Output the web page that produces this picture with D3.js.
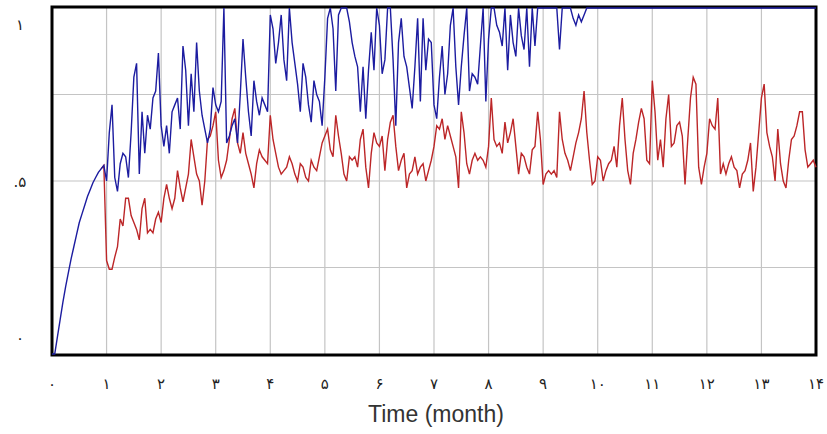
<!DOCTYPE html>
<html><head><meta charset="utf-8">
<script src="https://cdn.jsdelivr.net/npm/d3@7"></script>
<style>body{margin:0;background:#fff}svg{display:block}</style>
</head><body>
<svg id="chart" width="827" height="434"></svg>
<script>
// ---- data (one row = one month, step 0.05 month) ----
const timeStep = 0.05;
const blueSeries = [
0,0,0.05,0.10,0.15,0.195,0.235,0.275,0.31,0.345,0.38,0.405,0.43,0.455,0.475,0.495,0.51,0.525,0.535,0.545,
0.50,0.64,0.72,0.51,0.47,0.55,0.58,0.57,0.51,0.64,0.80,0.84,0.52,0.70,0.58,0.69,0.65,0.74,0.76,0.87,
0.66,0.60,0.66,0.58,0.70,0.72,0.74,0.65,0.89,0.82,0.66,0.81,0.70,0.90,0.76,0.69,0.65,0.61,0.65,0.77,
0.72,0.70,0.73,1.0,0.61,0.63,0.66,0.68,0.61,0.75,0.91,0.80,0.70,0.63,0.79,0.73,0.69,0.74,0.72,0.70,
0.98,0.94,0.84,0.90,0.98,0.85,0.79,1.0,0.90,0.84,0.78,0.70,0.84,0.80,0.72,0.67,0.79,0.75,0.73,0.66,
0.80,0.97,1.0,0.94,0.76,0.98,1.0,1.0,1.0,0.96,0.90,0.86,0.83,0.70,0.83,0.68,0.82,0.93,0.82,1.0,
0.95,0.81,0.85,1.0,1.0,0.85,0.66,0.90,0.97,0.86,0.83,0.77,0.71,0.83,0.97,0.73,0.97,0.82,0.91,0.90,
0.72,0.68,0.80,0.89,0.75,0.81,0.95,1.0,0.83,0.72,0.83,0.92,1.0,0.76,0.81,0.80,0.78,0.89,1.0,0.73,
0.91,1.0,1.0,0.95,0.93,0.89,1.0,0.82,0.98,0.90,0.86,1.0,0.92,0.88,1.0,0.83,1.0,0.89,1.0,1.0,
1,1,1,1,1,1,0.88,1.0,1.0,1.0,1.0,0.97,0.95,0.98,0.96,0.98,1,1,1,1,
1,1,1,1,1,1,1,1,1,1,1,1,1,1,1,1,1,1,1,1,
1,1,1,1,1,1,1,1,1,1,1,1,1,1,1,1,1,1,1,1,
1,1,1,1,1,1,1,1,1,1,1,1,1,1,1,1,1,1,1,1,
1,1,1,1,1,1,1,1,1,1,1,1,1,1,1,1,1,1,1,1,
1
];
const redSeries = [
null,null,null,null,null,null,null,null,null,null,null,null,null,null,null,null,null,null,0.535,0.545,
0.27,0.245,0.245,0.28,0.31,0.39,0.37,0.45,0.45,0.40,0.38,0.36,0.33,0.42,0.45,0.35,0.36,0.35,0.39,0.41,
0.38,0.45,0.49,0.45,0.42,0.45,0.53,0.48,0.44,0.48,0.52,0.62,0.57,0.52,0.50,0.43,0.50,0.62,0.63,0.66,
0.70,0.56,0.51,0.53,0.56,0.62,0.68,0.71,0.61,0.58,0.64,0.58,0.55,0.52,0.48,0.55,0.59,0.57,0.56,0.55,
0.69,0.62,0.58,0.54,0.52,0.53,0.54,0.57,0.55,0.52,0.50,0.55,0.54,0.51,0.50,0.56,0.54,0.53,0.57,0.61,
0.63,0.65,0.59,0.57,0.69,0.63,0.58,0.52,0.50,0.57,0.56,0.57,0.54,0.62,0.65,0.54,0.48,0.58,0.64,0.61,
0.60,0.63,0.53,0.62,0.67,0.69,0.60,0.53,0.56,0.58,0.48,0.52,0.53,0.57,0.52,0.54,0.55,0.50,0.53,0.56,
0.60,0.66,0.65,0.68,0.62,0.66,0.63,0.60,0.57,0.48,0.70,0.64,0.55,0.52,0.56,0.58,0.56,0.57,0.56,0.54,
0.60,0.74,0.62,0.60,0.61,0.58,0.67,0.61,0.64,0.68,0.60,0.52,0.58,0.57,0.54,0.52,0.59,0.60,0.70,0.62,
0.49,0.52,0.53,0.52,0.53,0.51,0.70,0.62,0.58,0.56,0.53,0.57,0.61,0.64,0.68,0.76,0.64,0.56,0.49,0.50,
0.57,0.56,0.50,0.53,0.55,0.56,0.60,0.54,0.66,0.74,0.62,0.53,0.49,0.58,0.62,0.67,0.71,0.68,0.56,0.55,
0.79,0.70,0.56,0.62,0.54,0.68,0.75,0.60,0.61,0.66,0.67,0.63,0.49,0.62,0.74,0.80,0.78,0.54,0.49,0.54,
0.58,0.68,0.66,0.65,0.74,0.52,0.55,0.52,0.55,0.57,0.54,0.53,0.48,0.52,0.53,0.56,0.61,0.47,0.54,0.64,
0.74,0.78,0.64,0.60,0.57,0.50,0.65,0.55,0.50,0.48,0.56,0.62,0.63,0.66,0.70,0.70,0.59,0.54,0.55,0.56,
0.54
];
const xTickValues = [0,1,2,3,4,5,6,7,8,9,10,11,12,13,14];
const xTickLabels = ["۰","۱","۲","۳","۴","۵","۶","۷","۸","۹","۱۰","۱۱","۱۲","۱۳","۱۴"];
const yGridValues = [0.25,0.5,0.75];
const yTickValues = [0,0.5,1];
const yTickLabels = ["۰",".۵","۱"];
const xTitle = "Time (month)";

// ---- drawing ----
const svg = d3.select("#chart");
const L = 52, R = 816, T = 8, B = 354;
const x = d3.scaleLinear().domain([0,14]).range([L,R]);
const y = d3.scaleLinear().domain([0,1]).range([B,T]);
const numFont = "Tahoma, 'DejaVu Sans', sans-serif";

// grid
svg.append("g").selectAll("line").data(xTickValues.slice(1,-1)).join("line")
  .attr("x1", d=>x(d)).attr("x2", d=>x(d)).attr("y1", T).attr("y2", B)
  .attr("stroke", "#c4c4c4").attr("stroke-width", 1.2);
svg.append("g").selectAll("line").data(yGridValues).join("line")
  .attr("x1", L).attr("x2", R).attr("y1", d=>y(d)).attr("y2", d=>y(d))
  .attr("stroke", "#c4c4c4").attr("stroke-width", 1.2);

// frame
svg.append("rect").attr("x", L).attr("y", T-1).attr("width", R-L).attr("height", B-T+2)
  .attr("fill", "none").attr("stroke", "#000").attr("stroke-width", 3);

const times = blueSeries.map((_, i) => +(i*timeStep).toFixed(2));
const line = d3.line().defined(d => d[1] !== null)
  .x(d => x(d[0])).y(d => y(Math.min(1, d[1])));

svg.append("path").datum(times.map((t,i)=>[t, redSeries[i]]))
  .attr("d", line).attr("fill","none").attr("stroke","#bc2628").attr("stroke-width",1.4);
svg.append("path").datum(times.map((t,i)=>[t, blueSeries[i]]))
  .attr("d", line).attr("fill","none").attr("stroke","#1c1ca0").attr("stroke-width",1.4);

// x tick labels
svg.append("g").selectAll("text").data(xTickValues).join("text")
  .attr("x", d=>x(d)).attr("y", 389).attr("text-anchor","middle")
  .attr("font-family", numFont).attr("font-size", 15).attr("fill","#222")
  .text((d,i)=>xTickLabels[i]);

// y tick labels (end labels sit inside the range as in the original)
const yLabelPos = v => v === 1 ? y(v)+22 : v === 0 ? y(v)-11 : y(v)+6;
svg.append("g").selectAll("text").data(yTickValues).join("text")
  .attr("x", 20).attr("y", d=>yLabelPos(d)).attr("text-anchor","middle")
  .attr("font-family", numFont).attr("font-size", 15).attr("fill","#222")
  .text((d,i)=>yTickLabels[i]);

svg.append("text").attr("x", 436).attr("y", 422).attr("text-anchor","middle")
  .attr("font-family","'Liberation Sans', Arial, sans-serif").attr("font-size", 23)
  .attr("fill","#333").text(xTitle);
</script>
</body></html>
